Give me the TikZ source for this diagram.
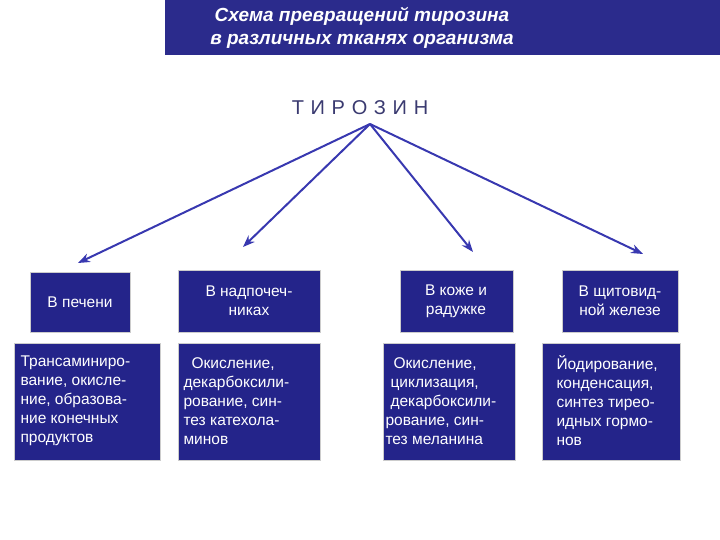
\documentclass[tikz,border=0pt]{standalone}
\usepackage{fontspec}
\setmainfont{Liberation Sans}
\usetikzlibrary{arrows.meta}
\definecolor{bar}{HTML}{2B2B8C}
\definecolor{boxc}{HTML}{24248A}
\definecolor{arr}{HTML}{3838B0}
\definecolor{tyr}{HTML}{3A3A70}
\tikzset{bx/.style={draw=gray!40,line width=0.6pt,fill=boxc},
tx/.style={text=white,font=\fontsize{15.5}{19}\selectfont},
ar/.style={draw=arr,line width=2pt,-{Stealth[length=12pt,width=9pt]}}}
\begin{document}
\begin{tikzpicture}[x=1pt,y=-1pt]
\useasboundingbox (0,0) rectangle (720,540);
\fill[bar] (165,0) rectangle (720,55);
\node[text=white,font=\fontsize{19}{23}\selectfont\bfseries\itshape,align=center] (t) at (362,28) {Схема превращений тирозина\\в различных тканях организма};
\node[text=tyr,font=\fontsize{20}{22}\selectfont] (ty) at (360,108) {Т\,\,И\,\,Р\,\,О\,\,З\,\,И\,\,Н};
\coordinate (s) at (370,124);
\path[bx] (30,272) rectangle (130,332); \node[tx] (a1) at (80,302) {В печени};
\path[bx] (178,270) rectangle (320,332); \node[tx,align=center] (b1) at (249,301) {В надпочеч-\\никах};
\path[bx] (400,270) rectangle (513,332); \node[tx,align=center] (c1) at (456,301) {В коже и\\радужке};
\path[bx] (562,270) rectangle (678,332); \node[tx,align=center] (d1) at (620,301) {В щитовид-\\ной железе};
\path[bx] (14,343) rectangle (160,460); \node[tx,align=left,anchor=west] (a2) at (17,401) {Трансаминиро-\\вание, окисле-\\ние, образова-\\ние конечных\\продуктов};
\path[bx] (178,343) rectangle (320,460); \node[tx,align=left,anchor=west] (b2) at (180,401) {\hspace*{8pt}Окисление,\\декарбоксили-\\рование, син-\\тез катехола-\\минов};
\path[bx] (383,343) rectangle (515,460); \node[tx,align=left,anchor=west] (c2) at (382,401) {\hspace*{8pt}Окисление,\\\hspace*{5pt}циклизация,\\\hspace*{5pt}декарбоксили-\\рование, син-\\тез меланина};
\path[bx] (542,343) rectangle (680,460); \node[tx,align=left,anchor=west] (d2) at (553,401) {Йодирование,\\конденсация,\\синтез тирео-\\идных гормо-\\нов};
\coordinate (e1) at (78,263); \coordinate (e2) at (243,247); \coordinate (e3) at (473,252); \coordinate (e4) at (643,254);
\draw[ar] (s) -- (e1); \draw[ar] (s) -- (e2); \draw[ar] (s) -- (e3); \draw[ar] (s) -- (e4);
\end{tikzpicture}
\end{document}
